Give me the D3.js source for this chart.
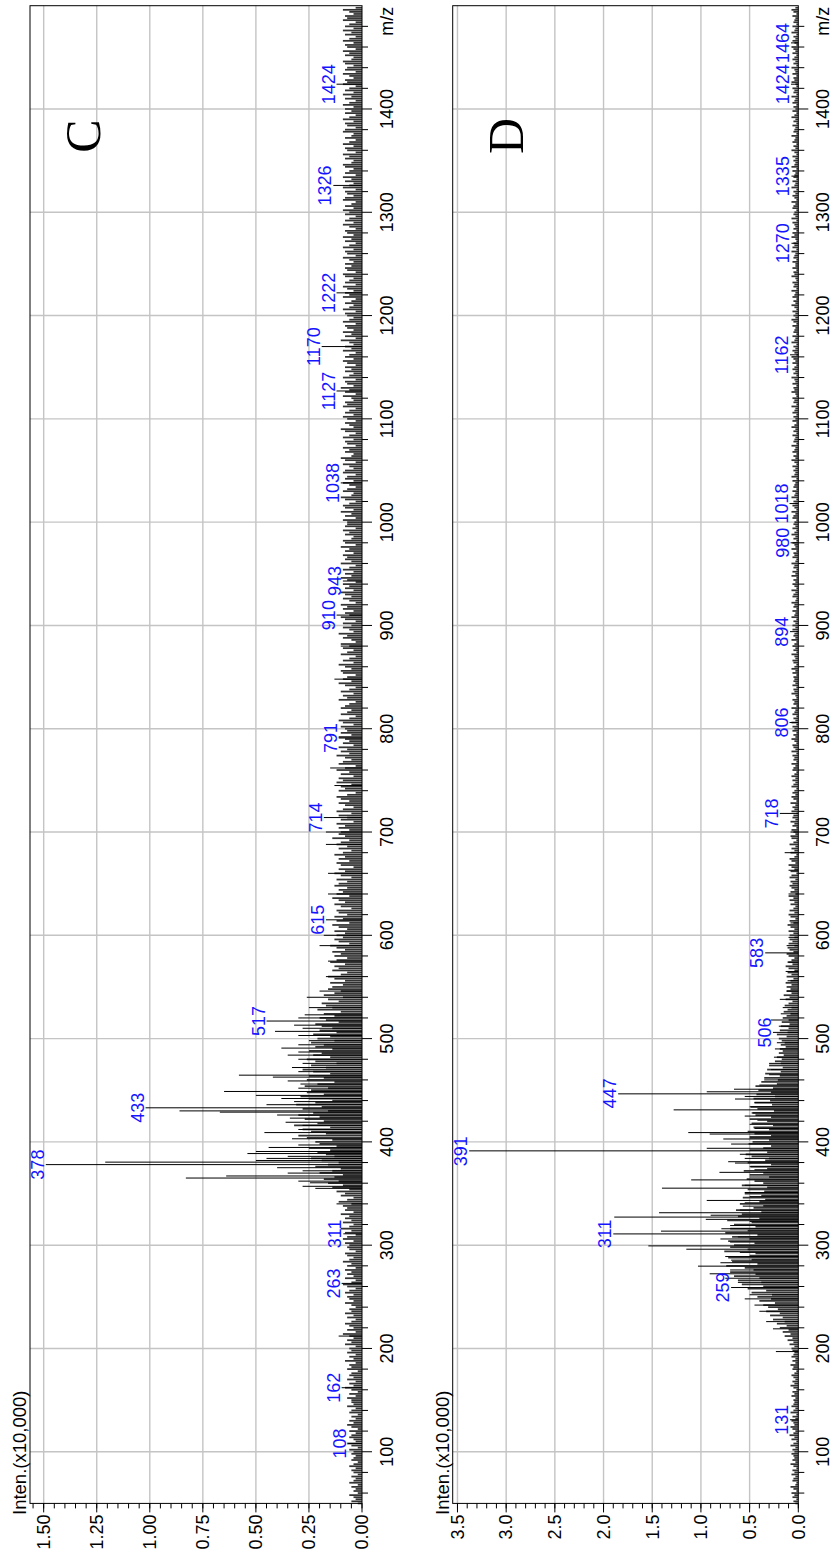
<!DOCTYPE html>
<html><head><meta charset="utf-8">
<script src="https://cdn.jsdelivr.net/npm/d3@7/dist/d3.min.js"></script>
<style>body{margin:0;background:#fff}svg{display:block}</style>
</head><body>
<script>
// ---------- DATA ----------
// m/z axis
const mzDomain = [50, 1500];
const mzMajorTicks = [100,200,300,400,500,600,700,800,900,1000,1100,1200,1300,1400];
// baseline noise sticks: one value every 2 m/z starting at m/z 50, intensity in units of 0.01 (x10,000)
const noiseStart = 50, noiseStep = 2;
const noiseC = [
2,5,3,4,6,2,4,3,5,2,6,4,3,5,2,4,5,3,6,4,2,5,4,3,5,
4,6,2,5,7,3,4,6,5,3,6,2,5,7,4,6,3,5,2,6,5,3,7,4,5,
5,7,3,6,2,5,8,4,6,3,7,4,6,5,2,7,5,6,3,8,4,6,3,7,5,
6,3,8,5,7,4,6,9,3,7,4,6,8,5,3,7,4,8,5,6,3,5,8,4,6,
7,4,8,6,3,7,9,5,3,8,4,7,5,8,3,7,5,9,6,4,7,8,3,6,7,
6,8,4,9,7,3,8,5,10,6,4,9,5,8,6,10,4,8,7,9,5,11,7,4,10,
8,12,6,14,9,16,11,18,13,9,20,14,10,22,16,11,19,24,13,17,21,15,25,12,20,
22,14,26,30,17,24,28,15,32,21,18,27,20,30,23,16,28,19,31,22,14,25,29,18,26,
24,16,27,21,13,26,18,25,15,23,28,17,24,12,22,26,15,23,19,25,14,22,18,24,13,
21,15,23,12,20,14,19,22,11,17,20,13,18,10,21,14,17,19,11,16,9,18,13,10,16,
14,9,15,8,13,16,10,7,14,11,13,8,15,12,7,13,10,14,8,12,15,6,11,13,9,
12,8,13,7,11,14,6,12,9,13,7,11,12,5,10,13,8,11,14,6,12,9,11,7,13,
11,7,12,5,10,13,8,11,4,10,12,6,11,8,13,9,5,11,7,12,10,6,14,8,11,
10,6,11,8,12,4,10,7,11,5,12,9,4,8,11,6,10,12,7,3,11,8,10,5,12,
9,11,4,10,6,12,8,3,11,9,5,8,12,6,10,7,11,4,9,6,8,11,5,10,7,
8,10,4,9,11,6,3,10,7,5,10,8,6,3,11,7,9,4,10,6,3,8,11,5,9,
7,3,9,10,5,8,11,4,9,6,3,10,7,4,9,6,10,3,5,9,7,11,4,6,9,
5,9,3,8,10,6,8,4,9,7,10,3,6,9,5,8,10,4,8,6,9,3,7,10,5,
8,4,9,6,3,10,5,8,7,9,4,8,6,10,3,8,9,5,4,8,6,9,3,8,7,
7,9,3,8,5,10,4,8,9,6,3,8,10,5,4,9,7,3,6,9,4,8,7,3,9,
8,4,6,9,3,8,10,5,4,8,6,9,3,7,8,4,9,6,3,8,10,4,6,8,3,
7,9,4,8,6,3,9,7,8,4,5,9,3,8,6,10,4,7,8,3,9,6,4,8,5,
8,3,7,9,4,8,6,3,9,5,8,4,6,10,3,8,5,9,4,7,8,3,9,6,4,
7,8,3,9,6,4,8,5,3,9,6,8,4,7,9,3,8,6,4,8,9,3,7,8,5,
8,4,6,9,3,7,8,4,9,6,3,8,5,9,4,7,8,3,6,9,4,8,6,3,8,
6,9,4,8,5,3,9,8,4,7,8,3,9,6,4,8,5,9,3,8,6,4,8,9,5,
4,8,6,9,3,7,8,4,9,6,3,8,5,4,9,8,3,7,8,4,9,6,3,8,5,
8,4,9,6,3,8,5,9,4,8,6,3,9,7,8,4,6,9,3,8,7,4,8,9,5,
4,8,6,9,3,7,8,4,9,6,3,8,5,9,4,8,6,3,9,7,8,4,6,9,3];
const noiseD = [
3,5,2,6,4,7,2,5,8,3,2,6,5,3,7,4,6,2,5,8,3,6,4,5,7,
4,6,3,8,5,2,7,4,9,5,3,6,8,4,5,7,3,6,2,8,5,3,7,5,4,
5,3,7,4,6,2,5,8,4,6,3,5,7,4,2,6,5,8,3,6,3,7,5,4,6,
7,4,9,5,11,6,14,8,16,10,19,12,22,14,26,16,29,19,33,21,31,36,24,40,28,
42,27,48,33,52,36,58,38,62,40,66,44,70,46,55,74,42,68,48,72,50,44,76,52,70,
66,45,72,50,68,42,75,52,70,44,66,48,73,40,62,58,38,64,46,36,60,40,34,57,38,
55,35,52,32,58,36,45,53,30,50,36,56,32,49,28,52,34,30,48,54,32,50,36,28,51,
47,30,50,28,45,52,30,46,26,48,32,50,28,44,47,25,42,49,27,45,29,46,24,43,28,
41,26,44,22,38,21,35,19,34,18,32,16,30,18,24,17,22,15,20,16,19,13,18,14,17,
20,12,22,11,19,10,18,9,17,10,16,12,8,15,11,7,14,10,6,13,9,15,7,12,8,
12,7,13,8,5,12,7,11,4,10,13,6,11,7,4,10,12,5,9,11,4,10,6,9,4,
9,5,10,4,8,11,5,9,3,8,10,4,9,5,3,8,4,9,5,10,3,8,4,7,9,
6,8,3,9,7,2,8,4,7,10,3,7,9,4,2,8,4,7,3,9,5,2,7,8,3,
5,7,2,6,4,8,3,6,5,2,7,4,6,3,8,2,5,7,3,6,4,2,7,5,3,
6,3,7,4,2,6,5,3,7,2,5,4,6,2,7,3,5,6,2,4,7,3,5,2,6,
4,6,2,7,3,5,2,6,4,3,7,2,5,4,6,2,3,7,4,5,2,6,3,5,4,
5,2,6,3,7,4,2,5,6,3,4,7,2,5,3,6,4,2,7,3,5,4,2,6,3,
6,3,5,2,7,4,3,6,2,5,4,7,3,2,6,5,3,7,2,4,6,3,5,2,7,
3,6,2,5,4,7,3,2,6,4,5,2,7,3,4,6,2,5,3,7,4,2,6,3,5,
4,2,6,5,3,7,2,4,6,3,5,2,7,4,3,6,2,5,4,3,6,2,7,4,3,
5,3,6,2,4,7,3,5,2,6,4,3,7,2,5,4,3,6,2,5,3,7,4,2,6,
3,5,2,6,4,3,7,2,5,4,6,2,3,7,4,5,2,6,3,4,7,2,5,3,6,
4,2,6,3,5,7,2,4,6,3,5,2,7,4,3,6,2,5,4,3,6,2,5,7,3,
5,3,6,2,4,7,3,5,2,6,4,3,7,2,5,4,6,2,3,7,4,5,2,6,3,
3,6,2,5,4,3,7,2,6,4,5,2,3,7,4,6,2,5,3,4,6,2,7,3,5,
4,2,6,5,3,7,2,4,6,3,5,2,7,4,3,6,2,5,4,3,6,2,7,4,3,
5,3,6,2,4,7,3,5,2,6,4,3,7,2,5,4,3,6,2,5,3,7,4,2,6,
3,5,2,6,4,3,7,2,5,4,6,2,3,7,4,5,2,6,3,4,7,2,5,3,6,
4,2,6,3,5,7,2,4,6,3,5,2,7,4,3,6,2,5,4,3,6,2,5,7,3];

// prominent peaks (m/z, intensity x10,000)
const peaksCmz  = [108,162,212,263,311,340,355,357,360.4,362,365,367,369.8,372,375,378,380.4,382,384,386,388.7,390.7,394.6,397,403,409,412,416,419,423,426,428.8,430,433,436,439,442,445,448.8,452,456,459,462.7,464.6,468,472,476,480,484,487,490.8,494,498,503,507,510,513,517,520,523,530,540,546,560,575,590,600,615,640,660,688,700,714,745,762,791,848,880,910,943,1038,1127,1170,1222,1326,1424];
const peaksCint = [0.065,0.096,0.11,0.096,0.088,0.12,0.22,0.28,0.245,0.30,0.83,0.64,0.35,0.28,0.40,1.49,1.21,0.50,0.45,0.35,0.54,0.50,0.44,0.30,0.33,0.46,0.30,0.28,0.36,0.34,0.40,0.67,0.86,1.02,0.45,0.32,0.38,0.50,0.65,0.30,0.29,0.35,0.42,0.58,0.30,0.33,0.28,0.30,0.35,0.30,0.38,0.30,0.25,0.30,0.41,0.28,0.32,0.45,0.30,0.27,0.25,0.26,0.20,0.17,0.16,0.20,0.18,0.17,0.16,0.16,0.17,0.17,0.18,0.13,0.15,0.11,0.13,0.10,0.12,0.09,0.10,0.12,0.19,0.12,0.135,0.12];
const peaksDmz  = [131,197,219,226,236,242,248,252,259,264,268,272.3,276,279.7,283,285.5,289,293,296.1,299.3,303,306,308,310.9,313.6,315.9,319,323,325,327.2,329,331.4,334,337.8,341,343.3,347,351,355.2,358,363.2,366,370.5,373,376,379.5,380.8,384,388,391.3,393.8,397.9,402.8,405,407.6,409,413,417,421,425,428,431,434,438,441.5,444,446.5,448.5,451,455,460,465,470,476,482,490,496,506,512,518,524,530,538,546,556,565,574,583,590,598,612,640,663,680,700,718,806,894,980,1018,1162,1270,1335,1424,1464];
const peaksDint = [0.085,0.23,0.26,0.33,0.40,0.45,0.55,0.50,0.69,0.62,0.75,0.91,0.70,1.03,0.80,0.69,0.75,0.60,1.15,1.54,0.70,0.80,0.62,1.90,1.41,0.79,0.70,0.50,0.95,1.89,0.90,1.43,0.60,0.57,0.55,0.94,0.50,0.55,1.40,0.55,1.10,0.50,0.81,0.45,0.50,0.65,0.72,0.55,0.60,3.38,0.94,0.69,0.77,0.50,0.91,1.13,0.45,0.50,0.42,0.55,0.48,1.28,0.50,0.45,0.65,0.55,1.85,0.94,0.66,0.40,0.35,0.30,0.28,0.30,0.25,0.24,0.22,0.26,0.20,0.28,0.18,0.16,0.19,0.12,0.11,0.13,0.10,0.34,0.12,0.10,0.08,0.10,0.10,0.14,0.08,0.19,0.09,0.085,0.08,0.09,0.085,0.07,0.07,0.075,0.075];

// annotated peaks
const labelsC = [108,162,263,311,378,433,517,615,714,791,910,943,1038,1127,1170,1222,1326,1424];
const labelsD = [131,259,311,391,447,506,583,718,806,894,980,1018,1162,1270,1335,1424,1464];

// intensity ticks
const intTicksC = [0,0.25,0.5,0.75,1.0,1.25,1.5];
const intTicksD = [0,0.5,1.0,1.5,2.0,2.5,3.0,3.5];
const panelNames = ["C","D"];
const axisTitle = "Inten.(x10,000)";
const mzTitle = "m/z";

// ---------- DRAW ----------
const W = 834, H = 1558;
const svg = d3.select("body").append("svg").attr("width", W).attr("height", H);
// chart is drawn in a landscape frame then rotated -90deg
const root = svg.append("g").attr("transform", `translate(0,${H}) rotate(-90)`);

const x = d3.scaleLinear().domain(mzDomain).range([54.6, 1552.3]);
const sansFont = "'Liberation Sans', Arial, sans-serif";

const panels = [
  {name: panelNames[0], noise: noiseC, pmz: peaksCmz, pint: peaksCint, labels: labelsC,
   ticks: intTicksC, minorStep: 0.05, fmt: d3.format(".2f"), top: 30, bottom: 362, maxScale: 1.05},
  {name: panelNames[1], noise: noiseD, pmz: peaksDmz, pint: peaksDint, labels: labelsD,
   ticks: intTicksD, minorStep: 0.1, fmt: d3.format(".1f"), top: 452.7, bottom: 798.3, maxScale: 1.05}
];

panels.forEach(p => {
  const maxPeak = d3.max(p.pint);
  const y = d3.scaleLinear().domain([0, maxPeak * p.maxScale]).range([p.bottom, p.top]);
  const g = root.append("g");
  const [x0, x1] = x.range();

  // grid
  g.append("g").selectAll("line").data(mzMajorTicks).join("line")
    .attr("x1", d => x(d)).attr("x2", d => x(d)).attr("y1", p.top).attr("y2", p.bottom)
    .attr("stroke", "#c4c4c4").attr("stroke-width", 1.4);
  g.append("g").selectAll("line").data(p.ticks.filter(t => t > 0)).join("line")
    .attr("x1", x0).attr("x2", x1).attr("y1", d => y(d)).attr("y2", d => y(d))
    .attr("stroke", "#c4c4c4").attr("stroke-width", 1.4);

  // noise sticks
  const noisePts = p.noise.map((v, i) => ({mz: noiseStart + i * noiseStep, v: v / 100}));
  g.append("g").selectAll("line").data(noisePts).join("line")
    .attr("x1", d => x(d.mz)).attr("x2", d => x(d.mz))
    .attr("y1", p.bottom).attr("y2", d => y(d.v))
    .attr("stroke", "#333").attr("stroke-width", 1.75);

  // peaks
  const peaks = p.pmz.map((m, i) => ({mz: m, v: p.pint[i]}));
  g.append("g").selectAll("line").data(peaks).join("line")
    .attr("x1", d => x(d.mz)).attr("x2", d => x(d.mz))
    .attr("y1", p.bottom).attr("y2", d => y(d.v))
    .attr("stroke", "#000").attr("stroke-width", 1);

  // frame
  g.append("rect").attr("x", x0).attr("y", p.top).attr("width", x1 - x0).attr("height", p.bottom - p.top)
    .attr("fill", "none").attr("stroke", "#000").attr("stroke-width", 1);

  // intensity axis (left in landscape)
  const minor = d3.range(0, maxPeak * p.maxScale + 1e-9, p.minorStep);
  g.append("g").selectAll("line").data(minor).join("line")
    .attr("x1", x0).attr("x2", x0 - 5).attr("y1", d => y(d)).attr("y2", d => y(d))
    .attr("stroke", "#000");
  g.append("g").selectAll("line").data(p.ticks).join("line")
    .attr("x1", x0).attr("x2", x0 - 9).attr("y1", d => y(d)).attr("y2", d => y(d))
    .attr("stroke", "#000");
  g.append("g").selectAll("text").data(p.ticks).join("text")
    .attr("x", x0 - 11).attr("y", d => y(d)).attr("dy", "0.35em")
    .attr("text-anchor", "end").attr("font-family", sansFont).attr("font-size", 18)
    .text(d => p.fmt(d));

  // m/z axis (bottom in landscape)
  const mzMinor = d3.range(60, 1500, 20).filter(d => d % 100 !== 0);
  g.append("g").selectAll("line").data(mzMinor).join("line")
    .attr("x1", d => x(d)).attr("x2", d => x(d)).attr("y1", p.bottom).attr("y2", p.bottom + 6)
    .attr("stroke", "#000");
  g.append("g").selectAll("line").data(mzMajorTicks).join("line")
    .attr("x1", d => x(d)).attr("x2", d => x(d)).attr("y1", p.bottom).attr("y2", p.bottom + 10)
    .attr("stroke", "#000");
  g.append("g").selectAll("text").data(mzMajorTicks).join("text")
    .attr("x", d => x(d)).attr("y", p.bottom + 31)
    .attr("text-anchor", "middle").attr("font-family", sansFont).attr("font-size", 18)
    .text(d => d);
  g.append("text").attr("x", x1 - 1).attr("y", p.bottom + 31)
    .attr("text-anchor", "end").attr("font-family", sansFont).attr("font-size", 18).text(mzTitle);

  // y title
  g.append("text").attr("x", 43).attr("y", p.top - 4)
    .attr("font-family", sansFont).attr("font-size", 18.5).text(axisTitle);

  // panel letter
  g.append("text").attr("x", 1422).attr("y", p.top + 70).attr("text-anchor", "middle")
    .attr("font-family", "'Liberation Serif', 'Times New Roman', serif").attr("font-size", 50)
    .text(p.name);

  // peak labels
  const lab = p.labels.map(m => {
    const near = peaks.filter(d => Math.abs(d.mz - m) <= 1.5);
    const v = near.length ? d3.max(near, d => d.v) : 0;
    return {mz: m, v};
  });
  g.append("g").selectAll("text").data(lab).join("text")
    .attr("x", d => x(d.mz)).attr("y", d => y(d.v) - 2)
    .attr("text-anchor", "middle").attr("font-family", sansFont).attr("font-size", 18)
    .attr("fill", "#1414ff").text(d => d.mz);
});
</script>
</body></html>
